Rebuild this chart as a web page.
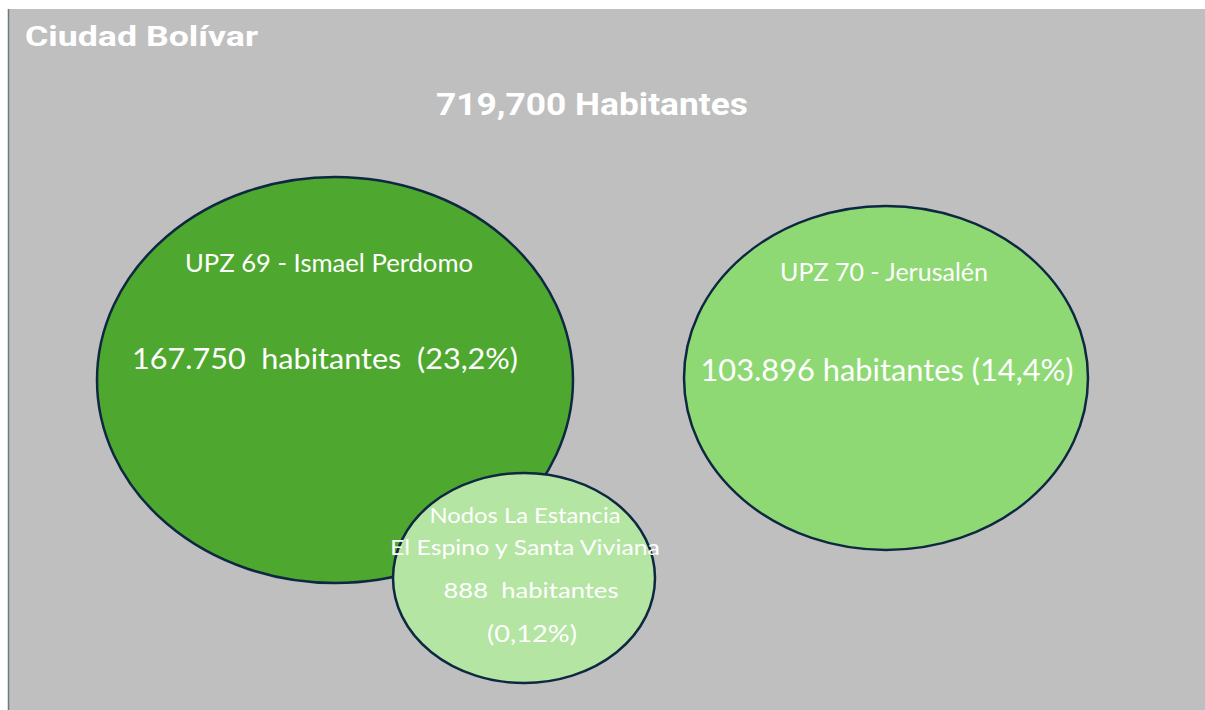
<!DOCTYPE html>
<html>
<head>
<meta charset="utf-8">
<script src="https://cdn.jsdelivr.net/npm/d3@7"></script>
<style>
  body { margin: 0; background: #fff; }
  svg { display: block; }
</style>
</head>
<body>
<div id="chart"></div>
<script>
// data
const localidad = "Ciudad Bolívar";
const totalLabel = "719,700 Habitantes";
const zonas = ["UPZ 69 - Ismael Perdomo", "UPZ 70 - Jerusalén", "Nodos La Estancia\nEl Espino y Santa Viviana"];
const habitantes = ["167.750", "103.896", "888"];
const porcentajes = ["23,2%", "14,4%", "0,12%"];

// layout of each bubble (cx, cy, rx, ry) and fill
const bubbles = [
	{ cx: 335, cy: 380, rx: 238, ry: 203, fill: "#4ea72e" },
	{ cx: 886, cy: 378, rx: 202, ry: 172, fill: "#8ed973" },
	{ cx: 524, cy: 578, rx: 131, ry: 105, fill: "#b4e5a2" },
];

const width = 1205, height = 710;
const font = "Lato, 'Open Sans', sans-serif";

const svg = d3
	.select("#chart")
	.append("svg")
	.attr("width", width)
	.attr("height", height);

// grey panel
svg.append("rect")
	.attr("x", 8)
	.attr("y", 9)
	.attr("width", width - 8)
	.attr("height", height - 9)
	.attr("fill", "#bfbfbf");

svg.append("line")
	.attr("x1", 8.5).attr("x2", 8.5)
	.attr("y1", 9).attr("y2", height)
	.attr("stroke", "#6e7980")
	.attr("stroke-width", 1.5);

// helper: white label stretched to a given width
function label(x, y, size, len, txt, weight, anchor) {
	return svg.append("text")
		.attr("x", x)
		.attr("y", y)
		.attr("text-anchor", anchor || "middle")
		.attr("fill", "#fff")
		.attr("font-family", weight ? "Roboto, sans-serif" : font)
		.attr("font-weight", weight || 400)
		.attr("font-size", size)
		.attr("textLength", len)
		.attr("lengthAdjust", "spacingAndGlyphs")
		.text(txt);
}

label(25, 46, 28, 233, localidad, 700, "start");
label(592, 115, 31, 312, totalLabel, 700);

const rows = zonas.map((z, i) => ({
	zona: z,
	hab: habitantes[i],
	pct: porcentajes[i],
	shape: bubbles[i],
}));

svg.selectAll("ellipse.bubble")
	.data(rows)
	.join("ellipse")
	.attr("class", "bubble")
	.attr("cx", (d) => d.shape.cx)
	.attr("cy", (d) => d.shape.cy)
	.attr("rx", (d) => d.shape.rx)
	.attr("ry", (d) => d.shape.ry)
	.attr("fill", (d) => d.shape.fill)
	.attr("stroke", "#0e2841")
	.attr("stroke-width", 2.5);

// UPZ 69
const a = rows[0];
label(a.shape.cx - 6, 272, 25, 288, a.zona);
label(a.shape.cx - 10, 369, 29, 386, `${a.hab}\u00a0 habitantes\u00a0 (${a.pct})`);

// UPZ 70
const b = rows[1];
label(b.shape.cx - 2, 281, 25, 208, b.zona);
label(b.shape.cx + 1, 381, 30, 373, `${b.hab} habitantes (${b.pct})`);

// nodos
const s = rows[2];
const parts = s.zona.split("\n");
label(s.shape.cx + 1, 523, 21, 191, parts[0]);
label(s.shape.cx + 1, 555, 21, 270, parts[1]);
label(s.shape.cx + 7, 598, 22, 175, `${s.hab}\u00a0 habitantes`);
label(s.shape.cx + 8, 642, 23, 90, `(${s.pct})`);
</script>
</body>
</html>
